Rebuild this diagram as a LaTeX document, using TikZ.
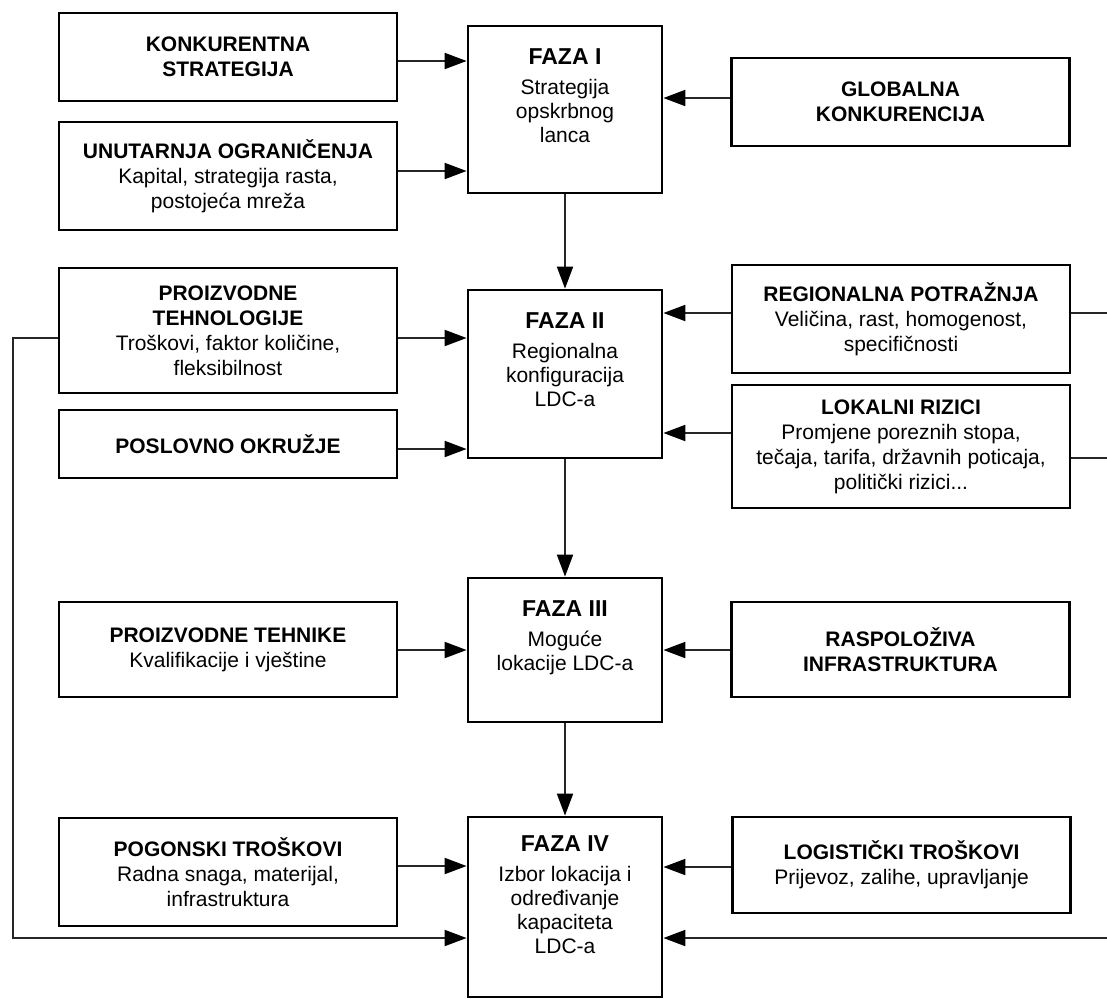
\documentclass[tikz,border=0pt]{standalone}
\usepackage{fontspec}
\setmainfont{Liberation Sans}
\usetikzlibrary{arrows.meta,positioning}

\begin{document}
\begin{tikzpicture}[x=0.5pt,y=-0.5pt,
    box/.style={draw,line width=1.4pt,align=center,inner sep=0pt,
      font=\fontsize{10.5}{12.5}\selectfont},
    side/.style={box,minimum width=169pt},
    phase/.style={draw,line width=1.4pt,inner sep=0pt,minimum width=97pt},
    phasetext/.style={align=center,inner sep=0pt,font=\fontsize{10.5}{12}\selectfont},
    title/.style={font=\fontsize{11.5}{12}\selectfont\bfseries},
    arr/.style={draw=black!85,line width=1pt,-{Triangle[length=11pt,width=8pt,color=black]}},
    feed/.style={draw=black!85,line width=1pt}]
    \useasboundingbox (0,0) rectangle (1107,998);
    \clip (0,0) rectangle (1107,998);
    % left column
    \node[side,minimum height=44pt] (konk) at (228,57) {\textbf{KONKURENTNA}\\\textbf{STRATEGIJA}};
    \node[side,minimum height=54pt] (unut) at (228,176) {\textbf{UNUTARNJA OGRANIČENJA}\\Kapital, strategija rasta,\\postojeća mreža};
    \node[side,minimum height=62.5pt] (proteh) at (228,330.5) {\textbf{PROIZVODNE}\\\textbf{TEHNOLOGIJE}\\Troškovi, faktor količine,\\fleksibilnost};
    \node[side,minimum height=34pt] (posl) at (228,444) {\textbf{POSLOVNO OKRUŽJE}};
    \node[side,minimum height=47.5pt] (protn) at (228,649.5) {\textbf{PROIZVODNE TEHNIKE}\\Kvalifikacije i vještine};
    \node[side,minimum height=54pt] (pog) at (228,872) {\textbf{POGONSKI TROŠKOVI}\\Radna snaga, materijal,\\infrastruktura};
    % phases
    \node[phase,minimum height=83.5pt] (f1) at (565,109.5) {};
    \node[phasetext,below=12pt of f1.north] (f1t) {{\bfseries\fontsize{11.5}{12}\selectfont FAZA I}\\[3pt]Strategija\\opskrbnog\\lanca};
    \node[phase,minimum height=84pt] (f2) at (565,374) {};
    \node[phasetext,below=12pt of f2.north] (f2t) {{\bfseries\fontsize{11.5}{12}\selectfont FAZA II}\\[3pt]Regionalna\\konfiguracija\\LDC-a};
    \node[phase,minimum height=72pt] (f3) at (565,650) {};
    \node[phasetext,below=12pt of f3.north] (f3t) {{\bfseries\fontsize{11.5}{12}\selectfont FAZA III}\\[3pt]Moguće\\lokacije LDC-a};
    \node[phase,minimum height=90pt] (f4) at (565,907) {};
    \node[phasetext,below=10pt of f4.north] (f4t) {{\bfseries\fontsize{11.5}{12}\selectfont FAZA IV}\\[3pt]Izbor lokacija i\\određivanje\\kapaciteta\\LDC-a};
    % right column
    \node[side,minimum height=44pt] (glob) at (900.5,102) {\textbf{GLOBALNA}\\\textbf{KONKURENCIJA}};
    \node[side,minimum height=54pt] (reg) at (901,319) {\textbf{REGIONALNA POTRAŽNJA}\\Veličina, rast, homogenost,\\specifičnosti};
    \node[side,minimum height=61.5pt] (lok) at (901,446.5) {\textbf{LOKALNI RIZICI}\\Promjene poreznih stopa,\\tečaja, tarifa, državnih poticaja,\\politički rizici...};
    \node[side,minimum height=47.5pt] (rasp) at (900.5,649.5) {\textbf{RASPOLOŽIVA}\\\textbf{INFRASTRUKTURA}};
    \node[side,minimum height=48pt] (log) at (901.5,865) {\textbf{LOGISTIČKI TROŠKOVI}\\Prijevoz, zalihe, upravljanje};
    % inputs
    \draw[arr] (konk.east |- 0,61) -- (f1.west |- 0,61);
    \draw[arr] (unut.east |- 0,171) -- (f1.west |- 0,171);
    \draw[arr] (glob.west |- 0,98) -- (f1.east |- 0,98);
    \draw[arr] (proteh.east |- 0,338) -- (f2.west |- 0,338);
    \draw[arr] (posl.east |- 0,449) -- (f2.west |- 0,449);
    \draw[arr] (reg.west |- 0,313) -- (f2.east |- 0,313);
    \draw[arr] (lok.west |- 0,433) -- (f2.east |- 0,433);
    \draw[arr] (protn.east |- 0,650) -- (f3.west |- 0,650);
    \draw[arr] (rasp.west |- 0,650) -- (f3.east |- 0,650);
    \draw[arr] (pog.east |- 0,866) -- (f4.west |- 0,866);
    \draw[arr] (log.west |- 0,867) -- (f4.east |- 0,867);
    % phase to phase
    \draw[arr] (f1) -- (f2);
    \draw[arr] (f2) -- (f3);
    \draw[arr] (f3) -- (f4);
    % feedback
    \coordinate (lbus) at (13,938);
    \coordinate (rbus) at (1125,938);
    \draw[arr] (proteh.west |- 0,338) -| (lbus) -- (f4.west |- lbus);
    \draw[feed] (reg.east |- 0,313) -| (rbus);
    \draw[feed] (lok.east |- 0,458) -| (rbus);
    \draw[arr] (rbus) -- (f4.east |- rbus);
\end{tikzpicture}
\end{document}
